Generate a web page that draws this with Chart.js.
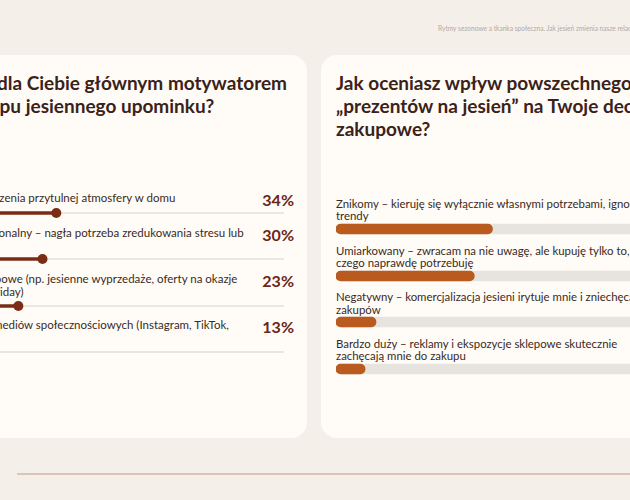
<!DOCTYPE html>
<html lang="pl">
<head>
<meta charset="utf-8">
<title>Jesienne zakupy</title>
<script src="https://cdn.jsdelivr.net/npm/chart.js@4.4.1/dist/chart.umd.min.js"></script>
<style>
  body {
    margin: 0;
    width: 630px;
    height: 500px;
    overflow: hidden;
    position: relative;
    background: #f5efe9;
    font-family: Lato, "Noto Sans", sans-serif;
  }
  .naglowek {
    position: absolute;
    left: 438px;
    top: 24px;
    font-size: 6.6px;
    color: #b3aaa2;
    white-space: nowrap;
  }
  .karta {
    position: absolute;
    top: 55px;
    height: 383px;
    background: #fffcf8;
    border-radius: 16px;
  }
  #kartaLewa { left: -81px; width: 388px; }
  #kartaPrawa { left: 321px; width: 394px; }
  .tytul {
    position: absolute;
    left: 15px;
    top: 16px;
    margin: 0;
    font-size: 19px;
    line-height: 23px;
    font-weight: 700;
    color: #3b2218;
    white-space: nowrap;
  }
  .wiersze { position: absolute; left: 15px; }
  #wierszeLewe { top: 118.7px; width: 360px; }
  #wierszePrawe { top: 133.3px; width: 364px; }
  .wiersz {
    display: flex;
    flex-direction: column;
    justify-content: flex-end;
  }
  #wierszeLewe .wiersz { height: 46.33px; }
  #wierszePrawe .wiersz { height: 46.67px; }
  .opis {
    display: flex;
    justify-content: space-between;
    align-items: flex-start;
  }
  .tekst {
    font-size: 11.5px;
    line-height: 12.8px;
    color: #3a2a22;
    white-space: nowrap;
  }
  #wierszePrawe .tekst {
    font-size: 11.4px;
    line-height: 12.5px;
  }
  .procent {
    font-size: 16px;
    line-height: 12.5px;
    font-weight: 700;
    color: #6b2616;
    margin-top: 2px;
  }
  canvas { display: block; }
  .linia {
    position: absolute;
    left: 17px;
    top: 473px;
    width: 700px;
    height: 1.5px;
    background: #dac6b9;
  }
</style>
</head>
<body>

<div class="naglowek">Rytmy sezonowe a tkanka społeczna. Jak jesień zmienia nasze relacje?</div>

<div class="karta" id="kartaLewa">
  <h2 class="tytul" id="tytulLewy"></h2>
  <div class="wiersze" id="wierszeLewe"></div>
</div>

<div class="karta" id="kartaPrawa">
  <h2 class="tytul" id="tytulPrawy"></h2>
  <div class="wiersze" id="wierszePrawe"></div>
</div>

<div class="linia"></div>

<script>
// pytanie 1 - motywatory (lizaki)
const tytulLewy = ['Co jest dla Ciebie głównym motywatorem', 'do zakupu jesiennego upominku?'];
const etykietyLewe = [
  ['Chęć odtworzenia przytulnej atmosfery w domu'],
  ['Zakup emocjonalny – nagła potrzeba zredukowania stresu lub', 'smutku'],
  ['Okazje zakupowe (np. jesienne wyprzedaże, oferty na okazje', 'typu Black Friday)'],
  ['Inspiracje z mediów społecznościowych (Instagram, TikTok,', 'Pinterest)']
];
const wartosciLewe = [34, 30, 23, 13];

// pytanie 2 - wpływ trendu (paski)
const tytulPrawy = ['Jak oceniasz wpływ powszechnego trendu', '„prezentów na jesień” na Twoje decyzje', 'zakupowe?'];
const etykietyPrawe = [
  ['Znikomy – kieruję się wyłącznie własnymi potrzebami, ignorując', 'trendy'],
  ['Umiarkowany – zwracam na nie uwagę, ale kupuję tylko to,', 'czego naprawdę potrzebuję'],
  ['Negatywny – komercjalizacja jesieni irytuje mnie i zniechęca do', 'zakupów'],
  ['Bardzo duży – reklamy i ekspozycje sklepowe skutecznie', 'zachęcają mnie do zakupu']
];
const wartosciPrawe = [43, 38, 11, 8];

const brazCiemny = '#7a2d14';
const pomarancz = '#b95a1f';

function wstawTytul(id, linie) {
  document.getElementById(id).innerHTML = linie.join('<br>');
}

function opcjeWspolne() {
  return {
    indexAxis: 'y',
    responsive: false,
    animation: false,
    events: [],
    layout: { padding: 0 },
    plugins: { legend: { display: false }, tooltip: { enabled: false } },
    scales: {
      x: { display: false, min: 0, max: 100 },
      y: { display: false }
    }
  };
}

function lizak(canvas, wartosc) {
  new Chart(canvas, {
    type: 'bar',
    data: {
      labels: [''],
      datasets: [
        {
          type: 'line',
          indexAxis: 'y',
          data: [wartosc],
          showLine: false,
          pointRadius: 5,
          pointBorderWidth: 0,
          pointBackgroundColor: brazCiemny,
          clip: false,
          order: 0
        },
        { data: [wartosc], backgroundColor: brazCiemny, barThickness: 3, grouped: false, order: 1 },
        { data: [100], backgroundColor: '#ece6e0', barThickness: 1.5, grouped: false, order: 2 }
      ]
    },
    options: opcjeWspolne()
  });
}

function pasek(canvas, wartosc) {
  new Chart(canvas, {
    type: 'bar',
    data: {
      labels: [''],
      datasets: [
        { data: [wartosc], backgroundColor: pomarancz, barThickness: 10, borderRadius: 5, borderSkipped: false, grouped: false, order: 1 },
        { data: [100], backgroundColor: '#e7e3df', barThickness: 10, borderRadius: 5, borderSkipped: false, grouped: false, order: 2 }
      ]
    },
    options: opcjeWspolne()
  });
}

function zbudujWiersze(idKontenera, etykiety, wartosci, szerokosc, wysokosc, pokazProcent, rysuj) {
  const kontener = document.getElementById(idKontenera);
  etykiety.forEach((linie, i) => {
    const wiersz = document.createElement('div');
    wiersz.className = 'wiersz';

    const opis = document.createElement('div');
    opis.className = 'opis';
    const tekst = document.createElement('div');
    tekst.className = 'tekst';
    tekst.innerHTML = linie.join('<br>');
    opis.appendChild(tekst);
    if (pokazProcent) {
      const procent = document.createElement('div');
      procent.className = 'procent';
      procent.innerText = wartosci[i] + '%';
      opis.appendChild(procent);
    }

    const canvas = document.createElement('canvas');
    canvas.width = szerokosc;
    canvas.height = wysokosc;

    wiersz.appendChild(opis);
    wiersz.appendChild(canvas);
    kontener.appendChild(wiersz);

    rysuj(canvas, wartosci[i]);
  });
}

wstawTytul('tytulLewy', tytulLewy);
wstawTytul('tytulPrawy', tytulPrawy);
zbudujWiersze('wierszeLewe', etykietyLewe, wartosciLewe, 355, 14, true, lizak);
zbudujWiersze('wierszePrawe', etykietyPrawe, wartosciPrawe, 364, 12, false, pasek);
</script>
</body>
</html>
